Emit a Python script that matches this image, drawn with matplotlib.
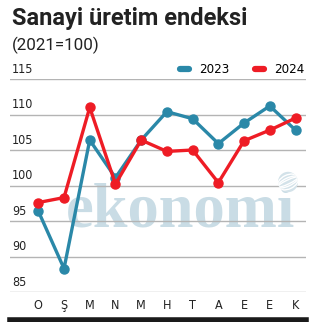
import matplotlib.pyplot as plt
from matplotlib.lines import Line2D
from matplotlib.patches import Circle, Ellipse

months = ['O', 'Ş', 'M', 'N', 'M', 'H', 'T', 'A', 'E', 'E', 'K']
values_2023 = [96.4, 88.3, 106.4, 101.1, 106.4, 110.4, 109.4, 105.9, 108.8, 111.2, 107.8]
values_2024 = [97.6, 98.3, 111.0, 100.2, 106.4, 104.8, 105.0, 100.4, 106.3, 107.8, 109.5]
yticks = [85, 90, 95, 100, 105, 110, 115]

blue = '#2a88a8'
red = '#ee1c25'
W, H = 316, 322

fig = plt.figure(figsize=(W / 100, H / 100), dpi=100)
fig.patch.set_facecolor('white')

# plot area: 85 line at y=292px, 115 line at y=79px, gridlines x 10..306px
ax = fig.add_axes([10 / W, (H - 292) / H, 296 / W, (292 - 79) / H])
ax.set_ylim(85, 115)
step = (295.5 - 38.3) / 10
ax.set_xlim(-(38.3 - 10) / step, (306 - 38.3) / step)
ax.axis('off')

for v in yticks:
    ax.axhline(v, color='#b4b4b4', lw=1.0, zorder=1)
    ax.text(0.007, v + 0.45, str(v), transform=ax.get_yaxis_transform(),
            ha='left', va='bottom', fontsize=9, color='#222222',
            family='DejaVu Sans', stretch='condensed')

# watermark
ax.text((66 - 38.3) / step, 94.2, 'ekonomi', family='Liberation Serif', weight='bold',
        fontsize=45, color='#c9dce5', ha='left', va='baseline', zorder=0)
globe = Circle((288 / W, 1 - 182 / H), 10 / W, transform=fig.transFigure,
               facecolor='#d3e2e9', edgecolor='none', zorder=0)
fig.patches.append(globe)
for w_, h_, ang in [(22, 8, 25), (22, 14, 25), (22, 4, 25)]:
    e = Ellipse((288 / W, 1 - 182 / H), w_ / W, h_ / H, angle=ang, transform=fig.transFigure,
                facecolor='none', edgecolor='white', lw=1.0, zorder=0)
    e.set_clip_path(globe)
    fig.patches.append(e)

x = list(range(len(months)))
ax.plot(x, values_2023, color=blue, lw=2.4, marker='o', ms=6.5, zorder=3,
        solid_joinstyle='round', clip_on=False)
ax.plot(x, values_2024, color=red, lw=2.4, marker='o', ms=6.5, zorder=4,
        solid_joinstyle='round', clip_on=False)

for i, m in enumerate(months):
    ax.text(i, 85 - 13 / 7.1, m, ha='center', va='center', fontsize=9,
            color='#222222', family='DejaVu Sans', stretch='condensed')

handles = [Line2D([0], [0], color=blue, lw=4.5, solid_capstyle='round'),
           Line2D([0], [0], color=red, lw=4.5, solid_capstyle='round')]
ax.legend(handles, ['2023', '2024'], loc='lower right', bbox_to_anchor=(1.005, 1.0),
          ncol=2, frameon=False, handlelength=0.7, handletextpad=0.8,
          columnspacing=1.9, borderaxespad=0.1, borderpad=0.1,
          prop={'family': 'DejaVu Sans', 'stretch': 'condensed', 'size': 9.5})

# bottom black bar
fig.add_artist(Line2D([10 / W, 306 / W], [1 - 319.5 / H, 1 - 319.5 / H], color='#1a1a1a',
                      lw=4, transform=fig.transFigure))

fig.text(12 / W, 1 - 25 / H, 'Sanayi üretim endeksi', ha='left', va='baseline',
         fontsize=17, weight='bold', color='#222222', family='Roboto')
fig.text(12 / W, 1 - 50 / H, '(2021=100)', ha='left', va='baseline',
         fontsize=12.2, color='#222222', family='Roboto')

fig.savefig('out.png', dpi=100, facecolor='white')
